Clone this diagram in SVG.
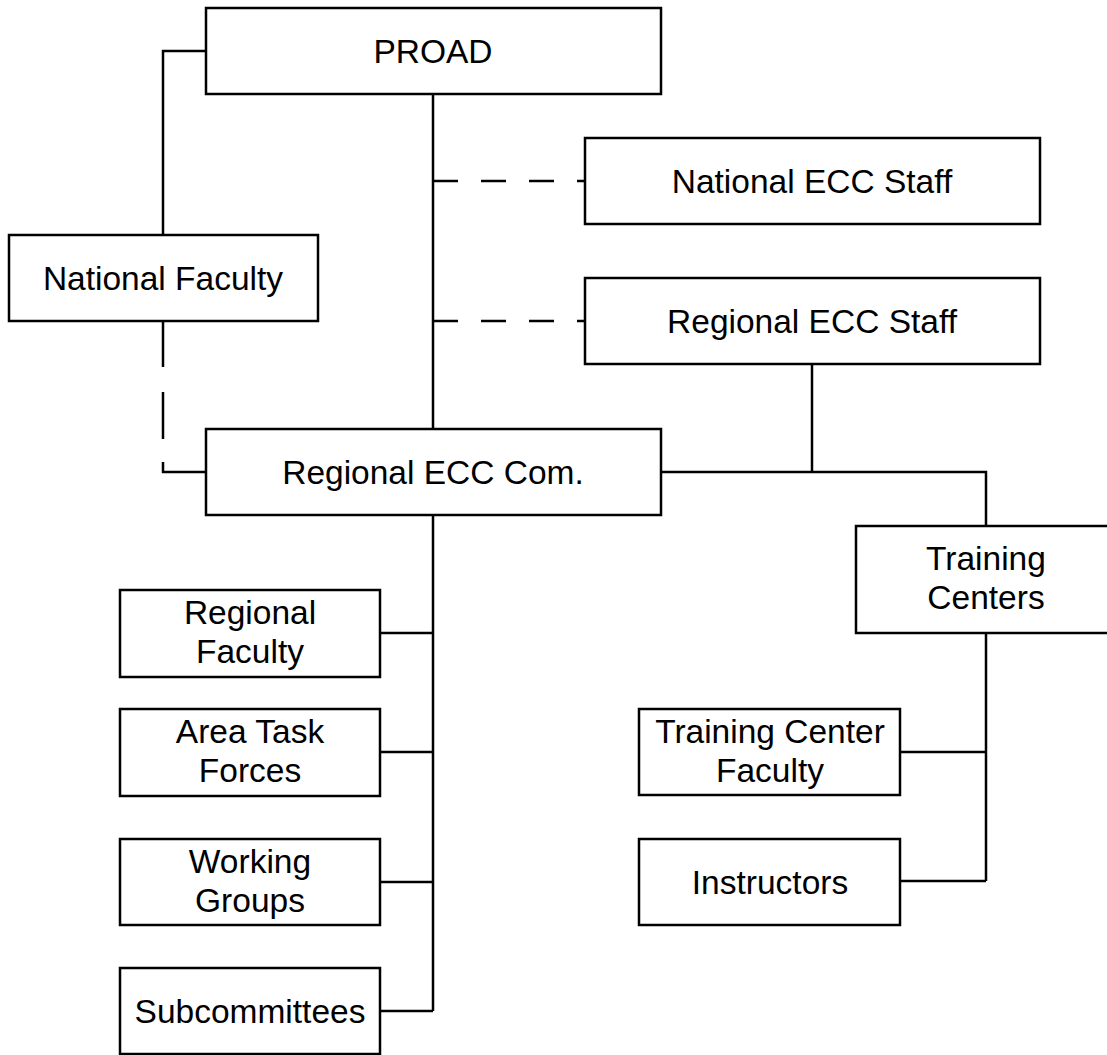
<svg xmlns="http://www.w3.org/2000/svg" width="1107" height="1055" viewBox="0 0 1107 1055">
<style>
rect{fill:#fff;stroke:#000;stroke-width:2.5}
text{font-family:"Liberation Sans",Arial,sans-serif;font-size:33.5px;fill:#000;text-anchor:middle}
.c{fill:none;stroke:#000;stroke-width:2.5}
.dh{stroke-dasharray:25 23}
.dv{stroke-dasharray:46 25 47 23 60}
</style>
<rect width="1107" height="1055" style="fill:#fff;stroke:none"/>
<g id="connectors">
<path class="c" d="M433 94V429"/>
<path class="c dh" d="M433 181H585"/>
<path class="c dh" d="M433 321H585"/>
<path class="c" d="M206 51H163V235"/>
<path class="c dv" d="M163 321V472H206"/>
<path class="c" d="M812 364V472"/>
<path class="c" d="M661 472H986V526"/>
<path class="c" d="M433 515V1011"/>
<path class="c" d="M380 633H433M380 752H433M380 882H433M380 1011H433"/>
<path class="c" d="M986 633V881M900 752H986M900 881H986"/>
</g>
<g id="proad"><rect x="206" y="8" width="455" height="86"/><text x="433" y="62.5">PROAD</text></g>
<g id="national-ecc-staff"><rect x="585" y="138" width="455" height="86"/><text x="812" y="192.5">National ECC Staff</text></g>
<g id="regional-ecc-staff"><rect x="585" y="278" width="455" height="86"/><text x="812" y="332.5">Regional ECC Staff</text></g>
<g id="national-faculty"><rect x="9" y="235" width="309" height="86"/><text x="163" y="289.5">National Faculty</text></g>
<g id="regional-ecc-com"><rect x="206" y="429" width="455" height="86"/><text x="433" y="483.5">Regional ECC Com.</text></g>
<g id="training-centers"><rect x="856" y="526" width="270" height="107"/><text x="986" y="570">Training</text><text x="986" y="609">Centers</text></g>
<g id="regional-faculty"><rect x="120" y="590" width="260" height="87"/><text x="250" y="624">Regional</text><text x="250" y="663">Faculty</text></g>
<g id="area-task-forces"><rect x="120" y="709" width="260" height="87"/><text x="250" y="743">Area Task</text><text x="250" y="782">Forces</text></g>
<g id="working-groups"><rect x="120" y="839" width="260" height="86"/><text x="250" y="872.5">Working</text><text x="250" y="911.5">Groups</text></g>
<g id="subcommittees"><rect x="120" y="968" width="260" height="86"/><text x="250" y="1022.5">Subcommittees</text></g>
<g id="training-center-faculty"><rect x="639" y="709" width="261" height="86"/><text x="770" y="742.5">Training Center</text><text x="770" y="781.5">Faculty</text></g>
<g id="instructors"><rect x="639" y="839" width="261" height="86"/><text x="770" y="893.5">Instructors</text></g>
</svg>
